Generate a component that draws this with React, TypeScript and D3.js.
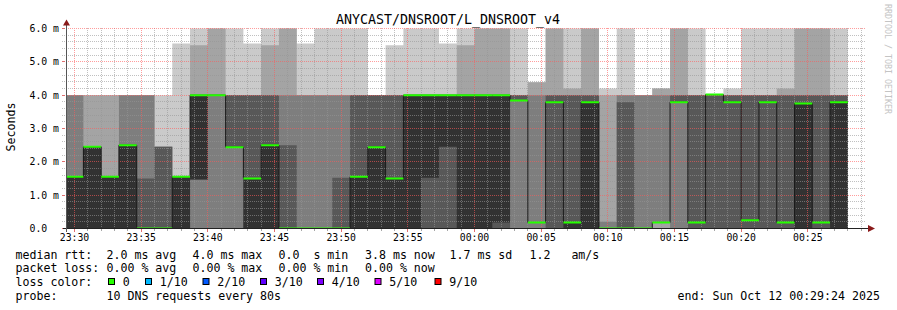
import React from "react";
import * as d3 from "d3";

// ---------- data (values in ms) ----------
const STEP_SECONDS = 80;
const firstStepEnd = Date.UTC(2025, 9, 11, 23, 30, 40);
const graphEnd = Date.UTC(2025, 9, 12, 0, 29, 24);
const graphStart = graphEnd - 3600 * 1000;

// sorted pings per step (ping1 = fastest ... ping10 = slowest)
const ping1 = [0,0,0,0,0,0,0,0,0,0, 0,0,0,0,0,0,0,0,0,0, 0,0,0,0,0,0,0,0,0,0, 0,0,0,0,0,0,0,0,0,0, 0,0,0,0];
const ping2 = [0,0,0,0,0,0,0,0,0,0, 0,0,0,0,0,0,0,0,0,0, 0,0,0,0,0,0,0,0,0,0, 0,0,0,0,0,0,0,0,0,0, 0,0,0,0];
const ping3 = [0,0,0,0,0,0,0,0,0,0, 0,0,0,0,0,0,0,0,0,0, 0,0,0,0,0,0,0,0,0,0, 0,0,0,0.18,0,0,0,0,0,0, 0,0,0,0];
const ping4 = [0,0,0,0,0,0,0,1.47,4,2.44, 0,0,0,0,0,0,0,0,0,0, 0,0,0,0,0,3.84,0.18,0,0,0, 0,0,0,0.18,3.79,0,0,0,0,0, 0,0,0,0];
const ping5 = [0,0,0,0,0,0,0,1.47,4,2.44, 0,0,0,0,0,0,0,0,0,0, 1.52,2.45,0,0,0.18,3.84,0.18,3.79,0,0, 0,0,0,0.18,3.79,0.18,4,3.79,0.25,3.79, 0.18,0,0.18,0];
const ping6 = [1.55,2.45,1.55,2.5,0,0,1.55,4,4,2.44, 1.5,2.5,0,0,0,0,1.55,2.44,1.5,4, 4,4,4,4,4,3.84,0.18,3.79,0.18,3.79, 0,0,0,0.18,3.79,0.18,4,3.79,0.25,3.79, 0.18,3.75,0.18,3.79];
const ping7 = [1.55,2.45,1.55,2.5,1.5,2.45,1.55,4,4,4, 4,4,2.5,0,0,1.52,4,4,4,4, 4,4,4,4,4,4,0.18,4,4,4, 0,3.79,0,0.18,4,4,4,4,4,4, 4,4,4,4];
const ping8 = [4,2.45,1.55,4,4,2.45,1.55,4,4,4, 4,4,4,4,4,4,4,4,4,4, 4,4,4,4,4,4,4,4,4,4, 0.2,4,4,4,4,4,4,4,4,4, 4,4,4,4];
const ping9 = [4,4,4,4,4,2.45,1.55,5.5,6,4, 4,5.5,6,4,4,4,4,4,4,4, 4,4,5.5,6,6,4,4.39,6,4.2,6, 4,4,4,4.2,6,4,4,4,4,4, 4.2,6,6,4];
const ping10 = [4,4,4,4,4,4,5.55,6,6,6, 5.55,6,6,5.55,6,6,6,4,5.5,6, 6,5.55,6,6,6,6,4.39,6,6,6, 4.2,6,4,4.2,6,6,4,4.2,6,6, 6,6,6,6];
const median = [1.55,2.45,1.55,2.5,0,0,1.55,4,4,2.44, 1.5,2.5,0,0,0,0,1.55,2.44,1.5,4, 4,4,4,4,4,3.84,0.18,3.79,0.18,3.79, 0,0,0,0.18,3.79,0.18,4.02,3.79,0.25,3.79, 0.18,3.75,0.18,3.79];
const lossCount = median.map(() => 0);

const yTickValues = [0, 1, 2, 3, 4, 5, 6];

const lossLegend = [
  { label: "0", color: "#26ff00" },
  { label: "1/10", color: "#00b8ff" },
  { label: "2/10", color: "#0059ff" },
  { label: "3/10", color: "#5e00ff" },
  { label: "4/10", color: "#7e00ff" },
  { label: "5/10", color: "#dd00ff" },
  { label: "9/10", color: "#ff0000" },
];
const lossColorFor = (n: number) =>
  n === 0 ? lossLegend[0].color : n === 1 ? lossLegend[1].color : n === 2 ? lossLegend[2].color :
  n === 3 ? lossLegend[3].color : n === 4 ? lossLegend[4].color : n <= 8 ? lossLegend[5].color : lossLegend[6].color;

const medianStats = ["2.0 ms avg", "4.0 ms max", "0.0  s min", "3.8 ms now", "1.7 ms sd", "1.2   am/s"];
const lossStats = ["0.00 % avg", "0.00 % max", "0.00 % min", "0.00 % now"];
const title = "ANYCAST/DNSROOT/L_DNSROOT_v4";
const probeText = "10 DNS requests every 80s";
const endText = "end: Sun Oct 12 00:29:24 2025";

// ---------- layout ----------
const W = 897;
const H = 310;
const PL = 66.5;
const PR = 866.5;
const PT = 28.5;
const PB = 228.5;
const MONO = "'DejaVu Sans Mono', 'Liberation Mono', monospace";
const bandColors = ["#cacaca", "#a4a4a4", "#7e7e7e", "#585858", "#323232"];

export default function App() {
  const pings = [ping1, ping2, ping3, ping4, ping5, ping6, ping7, ping8, ping9, ping10];
  const x = d3.scaleUtc().domain([new Date(graphStart), new Date(graphEnd)]).range([PL, PR]);
  const y = d3.scaleLinear().domain([0, 6]).range([PB, PT]);

  const steps = median.map((m, i) => ({
    i,
    start: new Date(firstStepEnd + (i - 1) * STEP_SECONDS * 1000),
    end: new Date(firstStepEnd + i * STEP_SECONDS * 1000),
  }));
  const pts = [...steps.map((s) => ({ t: s.start, i: s.i })), { t: steps[steps.length - 1].end, i: steps.length - 1 }];

  const bandPaths = bandColors.map((c, b) => {
    const area = d3
      .area<{ t: Date; i: number }>()
      .x((d) => x(d.t))
      .y0((d) => y(pings[b][d.i]))
      .y1((d) => y(pings[9 - b][d.i]))
      .curve(d3.curveStepAfter);
    return { color: c, d: area(pts) || "" };
  });

  const medLine = d3
    .line<{ t: Date; i: number }>()
    .x((d) => x(d.t))
    .y((d) => y(median[d.i]))
    .curve(d3.curveStepAfter)(pts) || "";

  const seg = d3.line<[Date, number]>().x((d) => x(d[0])).y((d) => y(d[1]));

  const minorTimes = x.ticks(d3.utcMinute.every(1)!);
  const minorVals = d3.range(0, 30.5, 1).map((k) => k * 0.2);
  const fmt = d3.utcFormat("%H:%M");
  const isMajorT = (t: Date) => t.getUTCMinutes() % 5 === 0;
  const majorTimes = minorTimes.filter(isMajorT);

  // dotted grid built as 1px squares (rrdtool style dots)
  const gridTop = Math.floor(PT);
  const gridBottom = Math.floor(PB);
  const gx0 = Math.floor(PL) - 4;
  const gx1 = Math.floor(PR);
  let minorD = "";
  let majorD = "";
  minorVals.forEach((v, k) => {
    const yy = Math.floor(y(v));
    if (yy >= gridBottom) return;
    let s = "";
    for (let xx = gx0; xx < gx1; xx += 2) s += `M${xx},${yy}h1v1h-1z`;
    if (k % 5 === 0) majorD += s; else minorD += s;
  });
  minorTimes.forEach((t) => {
    const xx = Math.floor(x(t));
    let s = "";
    for (let yy = gridTop; yy < gridBottom; yy += 2) s += `M${xx},${yy}h1v1h-1z`;
    if (isMajorT(t)) majorD += s; else minorD += s;
  });

  const legendX = [106.5, 192.5, 278.5, 365, 449.5, 529.5];
  const boxX = [108.5, 145.5, 203, 260.5, 317.5, 375, 435];

  return (
    <svg width={W} height={H} style={{ position: "absolute", left: 0, top: 0, background: "#fff" }} fontFamily={MONO}>
      <rect x={0} y={0} width={W} height={H} fill="#fff" />
      <defs>
        <clipPath id="plot">
          <rect x={PL} y={PT - 1} width={PR - PL} height={PB - PT + 1} />
        </clipPath>
      </defs>
      <g clipPath="url(#plot)">
        {bandPaths.map((b, k) => (
          <path key={k} d={b.d} fill={b.color} />
        ))}
      </g>

      {/* grid */}
      <g shapeRendering="crispEdges">
        <path d={minorD} fill="rgba(150,150,150,0.6)" />
        <path d={majorD} fill="rgba(255,90,90,0.6)" />
        {minorTimes.map((t, k) => {
          const isMajor = isMajorT(t);
          const xx = Math.floor(x(t));
          return (
            <rect key={"tk" + k} x={xx} y={gridBottom + 1} width={1} height={isMajor ? 3 : 2} fill={isMajor ? "#e07070" : "#a8a8a8"} />
          );
        })}
        {yTickValues.map((v) => (
          <rect key={"ytk" + v} x={gx0} y={Math.floor(y(v))} width={3} height={1} fill="#e07070" />
        ))}
      </g>

      {/* median */}
      <g clipPath="url(#plot)">
        <path d={medLine} fill="none" stroke="#1a1a1a" strokeWidth={1} />
        {steps.map((s) => (
          <path key={"g" + s.i} d={seg([[s.start, median[s.i]], [s.end, median[s.i]]]) || ""}
            stroke={lossColorFor(lossCount[s.i])} strokeWidth={2} fill="none" />
        ))}
      </g>

      {/* axes */}
      <g shapeRendering="crispEdges">
        <line x1={PL - 4} x2={869} y1={PB} y2={PB} stroke="#222" />
        <line x1={PL} x2={PL} y1={PB + 3} y2={24} stroke="#555" />
      </g>
      <path d={`M868,${PB - 3.5}L875,${PB}L868,${PB + 3.5}Z`} fill="#8a1a1a" />
      <path d={`M${PL - 3.5},25.5L${PL},19.5L${PL + 3.5},25.5Z`} fill="#8a1a1a" />

      {/* y labels */}
      {yTickValues.map((v) => (
        <text key={"yl" + v} x={29.5} y={y(v) + 3.6} fontSize={9.8} fill="#000" style={{ whiteSpace: "pre" }}>
          {v === 0 ? "0.0" : `${v.toFixed(1)} m`}
        </text>
      ))}
      {/* x labels */}
      {majorTimes.map((t, k) => (
        <text key={"xl" + k} x={x(t)} y={240.5} fontSize={9.8} textAnchor="middle" fill="#000">
          {fmt(t)}
        </text>
      ))}

      <text x={448} y={23.5} fontSize={13.3} textAnchor="middle" fill="#000">{title}</text>
      <text transform="translate(14.5,127) rotate(-90)" fontSize={11.6} textAnchor="middle" fill="#000">Seconds</text>
      <text transform="translate(885,4) rotate(90)" fontSize={8.3} fill="#c4c4c4">RRDTOOL / TOBI OETIKER</text>

      {/* legend */}
      <g fontSize={11.6} fill="#000" style={{ whiteSpace: "pre" }}>
        <text x={15.5} y={258.5}>median rtt:</text>
        {medianStats.map((s, k) => (
          <text key={"ms" + k} x={legendX[k]} y={258.5} xmlSpace="preserve">{s}</text>
        ))}
        <text x={15.5} y={272.3}>packet loss:</text>
        {lossStats.map((s, k) => (
          <text key={"ls" + k} x={legendX[k]} y={272.3} xmlSpace="preserve">{s}</text>
        ))}
        <text x={15.5} y={286.2}>loss color:</text>
        {lossLegend.map((l, k) => (
          <g key={"lc" + k}>
            <rect x={boxX[k]} y={278.5} width={6} height={6} fill={l.color} stroke="#000" strokeWidth={1} />
            <text x={boxX[k] + 14.3} y={286.2}>{l.label}</text>
          </g>
        ))}
        <text x={15.5} y={300.2}>probe:</text>
        <text x={106.5} y={300.2}>{probeText}</text>
        <text x={677.5} y={300.2}>{endText}</text>
      </g>
    </svg>
  );
}
